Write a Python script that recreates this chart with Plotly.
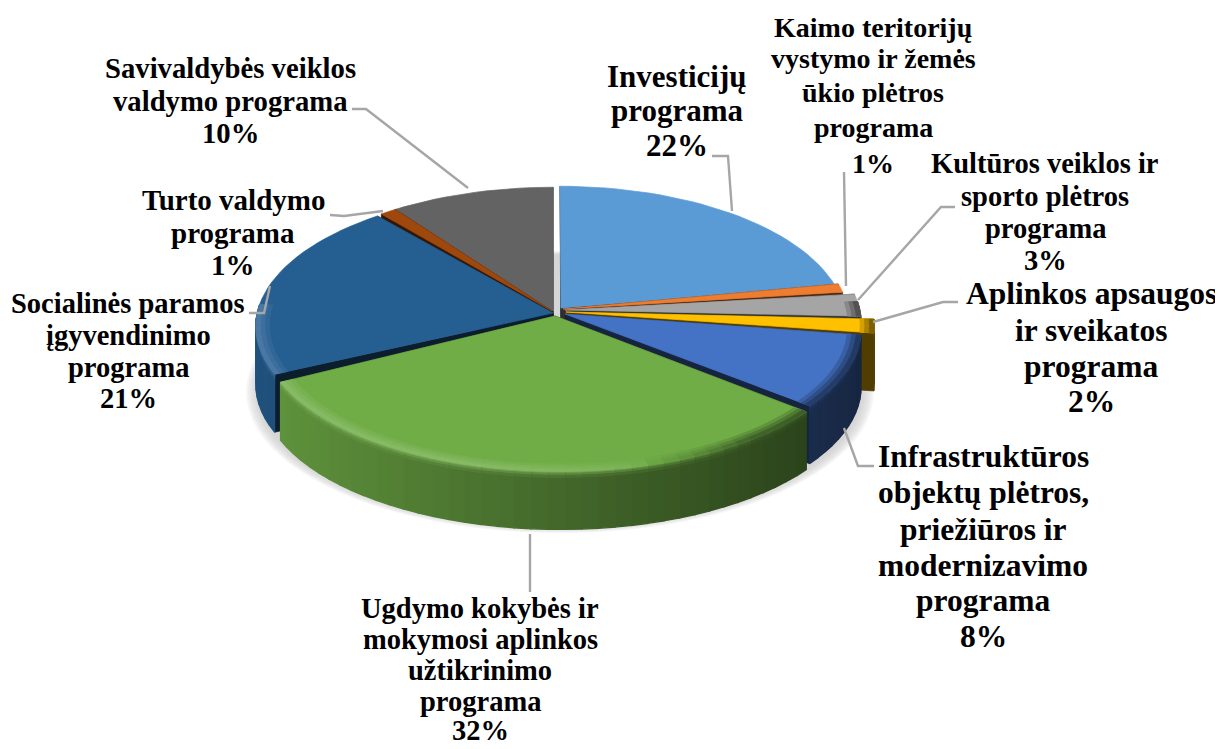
import math
import plotly.graph_objects as go

# ---------- data ----------
categories = ["Investicijų<br>programa", "Kaimo teritorijų<br>vystymo ir žemės<br>ūkio plėtros<br>programa",
              "Kultūros veiklos ir<br>sporto plėtros<br>programa", "Aplinkos apsaugos<br>ir sveikatos<br>programa",
              "Infrastruktūros<br>objektų plėtros,<br>priežiūros ir<br>modernizavimo<br>programa",
              "Ugdymo kokybės ir<br>mokymosi aplinkos<br>užtikrinimo<br>programa",
              "Socialinės paramos<br>įgyvendinimo<br>programa", "Turto valdymo<br>programa",
              "Savivaldybės veiklos<br>valdymo programa"]
shown_percent = ["22%", "1%", "3%", "2%", "8%", "32%", "21%", "1%", "10%"]
values = [22, 1, 2.6, 1.6, 8.5, 32.3, 21, 1, 10]
colors = ["#5B9BD5", "#ED7D31", "#A5A5A5", "#FFC000", "#4472C4", "#70AD47", "#255E91", "#9E480E", "#636363"]

# ---------- layout of the projected pie ----------
RY, K, DEPTH = 136, 0.09, 58
# rim centre x, rim centre y, horizontal radius, tip x, tip y (explosion of each slice)
geom = [(560, 311, 285, 561, 308), (563, 309, 285, 563, 309), (565, 311, 295, 565, 310),
        (568, 314, 305, 566, 312), (565, 316, 295, 565, 314), (560, 322, 297, 555, 316),
        (555, 314, 298, 553, 313), (553, 312, 288, 552, 311), (553, 312, 288, 553, 311)]
draw_order = [8, 0, 7, 1, 6, 2, 3, 4, 5]

# centre x, font size, y of every line
label_pos = [(677, 31, [76, 110, 145]), (873, 28, [27, 58, 92, 127, 163]), (1045, 28.5, [163, 196, 228, 260]),
             (1091, 31.5, [293, 330, 366, 401]), (983, 31.5, [456, 492, 529, 565, 600, 636]),
             (480, 28.5, [608, 639, 670, 701, 730]), (128, 28.5, [303, 335, 367, 398]),
             (233, 29, [200, 233, 265]), (230, 28.7, [68, 101, 133])]
leaders = [[(712, 156), (728, 156), (732, 211)], [(844, 172), (846, 286)], [(955, 207), (941, 207), (858, 300)],
           [(958, 302), (943, 302), (873, 322)], [(844, 428), (858, 466), (874, 466)], [(530, 534), (530, 592)],
           [(249, 313), (264, 313), (270, 286)], [(330, 215), (344, 216), (383, 211)],
           [(352, 109), (366, 109), (468, 188)]]


def rgb(h):
    return tuple(int(h[i:i + 2], 16) for i in (1, 3, 5))


def mix(a, b, t):
    return tuple(a[i] + (b[i] - a[i]) * t for i in range(3))


def css(c):
    return "rgb(%d,%d,%d)" % tuple(max(0, min(255, round(x))) for x in c)


def proj(g, r, th):
    u, v = r * math.sin(th), r * math.cos(th)
    s = 1 / (1 + K * v)
    return g[0] + g[2] * u * s, g[1] - RY * v * s


fig = go.Figure()


def draw(polys, color, opacity=None, width=0.7):
    xs, ys = [], []
    for p in polys:
        xs += [q[0] for q in p] + [p[0][0], None]
        ys += [q[1] for q in p] + [p[0][1], None]
    fig.add_trace(go.Scatter(x=xs, y=ys, mode="lines", fill="toself", fillcolor=color,
                             opacity=opacity, line=dict(color=color, width=width),
                             hoverinfo="skip", showlegend=False))


def arc(a, b, step=math.radians(2.5)):
    n = max(2, int(abs(b - a) / step) + 1)
    return [a + (b - a) * i / n for i in range(n + 1)]


# soft shadow below the pie
shadow_g = (560, 318, 304, 0, 0)
for i in range(7):
    grow = 1.028 - i * 0.006
    pts = []
    for t in arc(0, 2 * math.pi, math.radians(4)):
        x, y = proj(shadow_g, grow, t)
        pts.append((x, y + DEPTH + 3))
    draw([pts], "#c8c8c8", opacity=0.16, width=0)

# slices
cum = 0
spans = []
for val in values:
    spans.append((cum / 100 * 2 * math.pi, (cum + val) / 100 * 2 * math.pi))
    cum += val

FRONT_A, FRONT_B = math.radians(86), math.radians(274)
BANDS = [0.955, 0.97, 0.985]


def wall_factor(u):
    return 0.6 - 0.27 * u


for idx in draw_order:
    g, (a, b), base = geom[idx], spans[idx], rgb(colors[idx])
    tip = (g[3], g[4])
    dark = mix(base, (0, 0, 0), 0.68)
    # cut faces
    polys = []
    for t in (a, b):
        p = proj(g, 1, t)
        polys.append([tip, p, (p[0], p[1] + DEPTH), (tip[0], tip[1] + DEPTH)])
    draw(polys, css(dark))
    # outer wall with horizontal shading and a short bevel at its top
    lo, hi = max(a, FRONT_A), min(b, FRONT_B)
    ths = arc(lo, hi, math.radians(3)) if hi > lo else []

    def rim_color(t):
        u = math.sin(t)
        if u < 0.25:
            return mix(base, (255, 255, 255), 0.16 * min(1, (0.25 - u) / 0.6) ** 0.3)
        return mix(base, mix(base, (0, 0, 0), 1 - wall_factor(u)), min(1, (u - 0.25) / 0.35) * 0.75)

    for t0, t1 in zip(ths, ths[1:]):
        tm = (t0 + t1) / 2
        wall = mix(base, (0, 0, 0), 1 - wall_factor(math.sin(tm)))
        p0, p1 = proj(g, 1, t0), proj(g, 1, t1)
        draw([[p0, p1, (p1[0], p1[1] + DEPTH), (p0[0], p0[1] + DEPTH)]], css(wall), width=1.3)
        for k, (d0, d1) in enumerate(((0, 2), (2, 4), (4, 6))):
            c = mix(rim_color(tm), wall, (k + 1) / 3.5)
            draw([[(p0[0], p0[1] + d0), (p1[0], p1[1] + d0), (p1[0], p1[1] + d1), (p0[0], p0[1] + d1)]],
                 css(c), width=1)
    # top face
    top = [tip] + [proj(g, 1, t) for t in arc(a, b)]
    draw([top], css(base))
    # bevel bands on the top rim
    for t0, t1 in zip(ths, ths[1:]):
        tm = (t0 + t1) / 2
        for k, r in enumerate(BANDS):
            r1 = BANDS[k + 1] if k + 1 < len(BANDS) else 1
            c = mix(base, rim_color(tm), (k + 1) / len(BANDS))
            draw([[proj(g, r, t0), proj(g, r, t1), proj(g, r1, t1), proj(g, r1, t0)]], css(c), width=1)

# leader lines
for pts in leaders:
    fig.add_trace(go.Scatter(x=[p[0] for p in pts], y=[p[1] for p in pts], mode="lines",
                             line=dict(color="#a6a6a6", width=2.4), hoverinfo="skip", showlegend=False))

# labels, one annotation per line so that the line pitch can follow the reference
for name, pct, (x, size, ys) in zip(categories, shown_percent, label_pos):
    for line, y in zip(name.split("<br>") + [pct], ys):
        fig.add_annotation(x=x, y=y, xref="x", yref="y", text="<b>%s</b>" % line, showarrow=False,
                           xanchor="center", yanchor="middle", align="center",
                           font=dict(family="Liberation Serif", size=size, color="#000000"))

# the page keeps its default 8 px body margin, so the plot covers the rest of the window
fig.update_layout(width=1215, height=741, margin=dict(l=0, r=0, t=0, b=0), paper_bgcolor="white",
                  plot_bgcolor="white", showlegend=False,
                  xaxis=dict(range=[8, 1223], visible=False, fixedrange=True),
                  yaxis=dict(range=[749, 8], visible=False, fixedrange=True))
fig.write_html("out.html", config={"displayModeBar": False})
